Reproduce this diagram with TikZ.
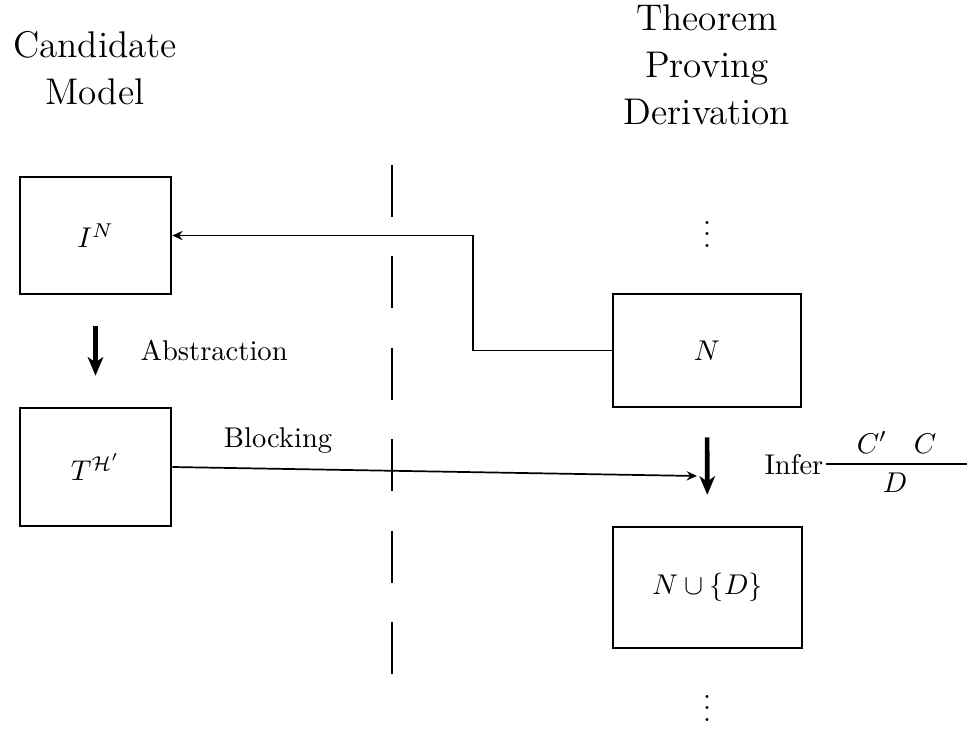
\documentclass[tikz,border=0pt]{standalone}
\usetikzlibrary{arrows.meta}
\newcommand\pxu{0.35pt}
\begin{document}
\begin{tikzpicture}[x=0.35pt,y=-0.35pt,
  box/.style 2 args={draw,line width=0.9pt,inner sep=0pt,minimum width=#1*\pxu,minimum height=#2*\pxu},
  title/.style={font=\fontsize{13}{16.4}\selectfont,align=center,inner sep=0pt},
  lbl/.style={inner sep=0pt},
  conn/.style={line width=0.6pt,-{Stealth[length=3.6pt,width=3.2pt,inset=1.2pt]}},
  thickarr/.style={line width=1.6pt,-{Stealth[length=6.5pt,width=5.4pt,inset=1.8pt]}},
  divider/.style={line width=0.6pt,dash pattern=on 18.2pt off 13.8pt},
  rulebar/.style={line width=0.5pt}]
\useasboundingbox (0,0) rectangle (971,731);
% titles
\node[title,anchor=north] (cm) at (95,31) {Candidate\\Model};
\node[title,anchor=north] (tp) at (707,4) {Theorem\\Proving\\Derivation};
% boxes
\node[box={151}{117}] (I) at (95.5,235.5) {$I^N$};
\node[box={151}{118}] (T) at (95.5,467) {$T^{\mathcal{H}'}$};
\node[box={188}{113}] (N) at (707,350.5) {$N$};
\node[box={189}{121}] (ND) at (707.5,587.5) {$N\cup\{D\}$};
% vdots
\node[lbl,anchor=base] (v1) at (707,247) {$\vdots$};
\node[lbl,anchor=base] (v2) at (707,721) {$\vdots$};
% thick arrows
\draw[thickarr,shorten <=10.85pt,shorten >=10.85pt] (I) -- (T);
\node[lbl,anchor=base west] (abs) at (140,360) {Abstraction};
\draw[thickarr,shorten <=10.2pt,shorten >=10.8pt] (N) -- (ND);
% divider
\coordinate (dtop) at (392,165);
\coordinate (dbot) at (392,674);
\draw[divider] (dtop) -- (dbot);
% N -> I^N
\coordinate (turn) at (473,350.5);
\draw[conn] (N.west) -- (turn) |- (I.east);
% blocking
\coordinate (bend) at (697,476);
\draw[conn] (T.east) -- (bend);
\node[lbl,anchor=base] (blk) at (278,447) {Blocking};
% inference rule
\node[lbl,anchor=base west] (inf) at (764,474) {Infer};
\coordinate (rl) at (826,464);
\coordinate (rr) at (967,464);
\draw[rulebar] (rl) -- (rr);
\node[lbl,anchor=base] (c1) at (872,453) {$C'$};
\node[lbl,anchor=base] (c2) at (925,453) {$C$};
\node[lbl,anchor=base] (d) at (895,492) {$D$};
\end{tikzpicture}
\end{document}
